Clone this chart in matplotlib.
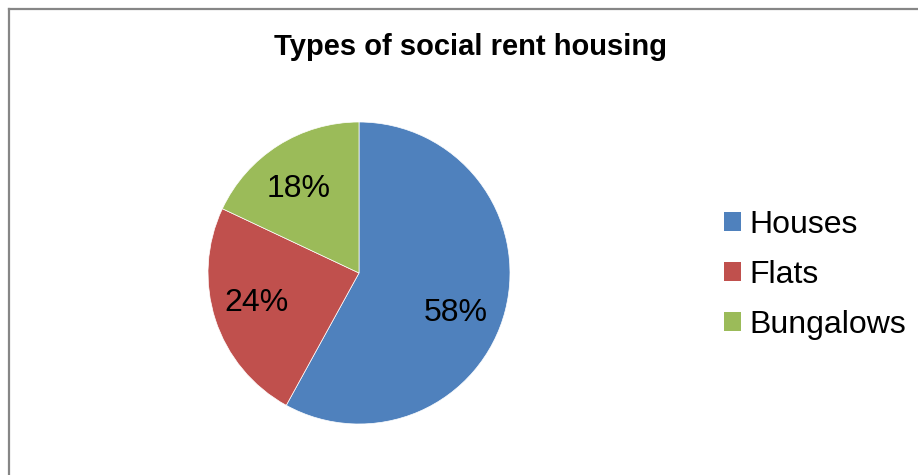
import matplotlib.pyplot as plt
from matplotlib.patches import Patch
from matplotlib.lines import Line2D

plt.rcParams['font.family'] = ['Liberation Sans', 'DejaVu Sans']

# data
categories = ['Houses', 'Flats', 'Bungalows']
shares = [58, 24, 18]
colors = ['#4F81BD', '#C0504D', '#9BBB59']
title = 'Types of social rent housing'

# where Excel put the percentage labels (in pie radius units)
label_pos = [(0.64, -0.265), (-0.68, -0.20), (-0.40, 0.555)]

W, H = 918, 475
fig = plt.figure(figsize=(W / 100, H / 100), dpi=100)

# chart frame (right and bottom edges are cut off in the original)
fig.add_artist(Line2D([8.5 / W, 1], [1 - 8.5 / H, 1 - 8.5 / H], color='#868686', lw=1.6))
fig.add_artist(Line2D([8.5 / W, 8.5 / W], [0, 1 - 8.5 / H], color='#868686', lw=1.6))

# pie axes: centre (359, 273) px, radius 151 px
cx, cy, r = 359, 273, 151
ax = fig.add_axes([(cx - r) / W, (H - cy - r) / H, 2 * r / W, 2 * r / H])
wedges, texts, autotexts = ax.pie(shares, colors=colors, startangle=90, counterclock=False,
                                  autopct='%.0f%%', pctdistance=0.67,
                                  wedgeprops=dict(edgecolor='white', linewidth=0.5),
                                  textprops=dict(fontsize=23, color='black'))
for t, p in zip(autotexts, label_pos):
    t.set_position(p)
ax.set_xlim(-1, 1)
ax.set_ylim(-1, 1)

fig.text(470 / W, 1 - 55 / H, title, ha='center', va='baseline', fontsize=21, fontweight='bold')

handles = [Patch(facecolor=c, edgecolor='none') for c in colors]
fig.legend(handles, categories, loc='center left', bbox_to_anchor=(724 / W, 1 - 275 / H),
           frameon=False, fontsize=23, handlelength=0.53, handleheight=0.53,
           handletextpad=0.25, labelspacing=0.62, borderpad=0, borderaxespad=0)

fig.savefig('out.png', dpi=100)
